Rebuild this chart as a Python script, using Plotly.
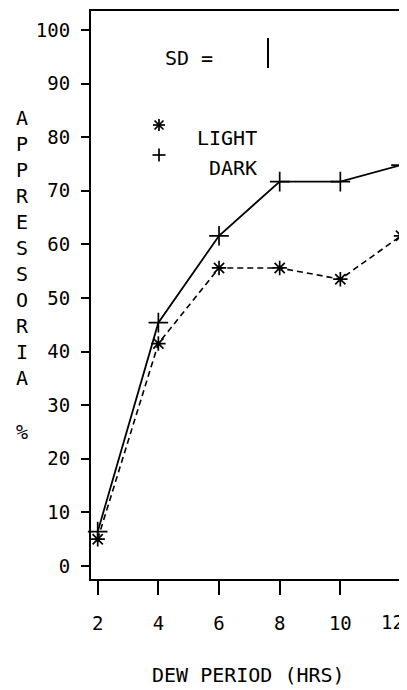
import plotly.graph_objects as go

# ---- data ----
dew_hours = [2, 4, 6, 8, 10, 12]
dark_pct = [6.4, 45.4, 61.6, 71.7, 71.7, 74.8]
light_pct = [5.0, 41.5, 55.6, 55.6, 53.5, 61.6]
x_ticks = [2, 4, 6, 8, 10, 12]
y_ticks = [0, 10, 20, 30, 40, 50, 60, 70, 80, 90, 100]
sd_value = 5.6
sd_base = 92.9

FONT = "DejaVu Sans Mono"
OFF = 8  # page body margin
W, H = 407 - OFF, 690 - OFF
# plot area in page pixels: x 91..407, y 11..579
L, T = 91 - OFF, 11 - OFF
R = 0
B = H - (579 - OFF)
PW, PH = W - L - R, H - T - B


def px(x):
    return (x - OFF - L) / PW


def py(y):
    return (H - B - (y - OFF)) / PH


fig = go.Figure()
fig.add_trace(go.Scatter(
    x=dew_hours, y=light_pct, mode="lines+markers", name="LIGHT",
    line=dict(color="black", width=1.6, dash="6px,4px"),
    marker=dict(symbol="asterisk-open", size=12, color="black",
                line=dict(color="black", width=1.7)),
    cliponaxis=False,
))
fig.add_trace(go.Scatter(
    x=dew_hours, y=dark_pct, mode="lines+markers", name="DARK",
    line=dict(color="black", width=1.8),
    marker=dict(symbol="cross-thin-open", size=14, color="black",
                line=dict(color="black", width=1.7)),
    cliponaxis=False,
))

shapes = []
# SD bar
shapes.append(dict(type="line", xref="paper", yref="y", x0=px(268), x1=px(268),
                   y0=sd_base, y1=sd_base + sd_value,
                   line=dict(color="black", width=2)))


def seg(x0, y0, x1, y1, w=1.7):
    shapes.append(dict(type="line", xref="paper", yref="paper",
                       x0=px(x0), y0=py(y0), x1=px(x1), y1=py(y1),
                       line=dict(color="black", width=w)))


# legend asterisk
cx, cy, r = 159, 125, 6
seg(cx, cy - r, cx, cy + r)
seg(cx - r, cy, cx + r, cy)
seg(cx - r * 0.75, cy - r * 0.75, cx + r * 0.75, cy + r * 0.75)
seg(cx - r * 0.75, cy + r * 0.75, cx + r * 0.75, cy - r * 0.75)
# legend plus
cx, cy, r = 159, 155, 6.5
seg(cx, cy - r, cx, cy + r)
seg(cx - r, cy, cx + r, cy)

annotations = [
    dict(text="SD =", x=px(163), y=py(58), xanchor="left", yanchor="middle"),
    dict(text="LIGHT", x=px(259), y=py(138), xanchor="right", yanchor="middle"),
    dict(text="DARK", x=px(259), y=py(168), xanchor="right", yanchor="middle"),
    dict(text="DEW PERIOD (HRS)", x=px(248), y=py(675), xanchor="center", yanchor="middle"),
    dict(text="<br>".join(list("APPRESSORIA")), x=px(22), y=py(248.5),
         xanchor="center", yanchor="middle"),
    dict(text="%", x=px(22), y=py(432), xanchor="center", yanchor="middle"),
]
for a in annotations:
    a.update(xref="paper", yref="paper", showarrow=False,
             font=dict(family=FONT, size=20, color="black"))

# last x tick label sits against the right edge: place it as a right-anchored label
last_tick = x_ticks[-1]
annotations.append(dict(
    text=str(last_tick), xref="x", x=last_tick, yref="paper", y=py(622),
    xanchor="right", yanchor="middle", xshift=5, showarrow=False,
    font=dict(family=FONT, size=19, color="black"),
))
tick_text = [str(v) for v in x_ticks[:-1]] + [""]

fig.update_layout(
    width=W, height=H,
    margin=dict(l=L, r=R, t=T, b=B, pad=0),
    paper_bgcolor="white", plot_bgcolor="white",
    showlegend=False,
    shapes=shapes, annotations=annotations,
    font=dict(family=FONT, size=18, color="black"),
)
fig.update_xaxes(
    range=[1.779, 12.198], tickvals=x_ticks, ticktext=tick_text,
    ticks="outside", ticklen=14, tickwidth=2, tickcolor="black",
    showline=True, linewidth=2, linecolor="black", mirror=True,
    showgrid=False, zeroline=False, ticklabelstandoff=12,
    tickfont=dict(family=FONT, size=19, color="black"),
)
fig.update_yaxes(
    range=[-2.43, 103.54], tickvals=y_ticks, ticktext=[str(v) for v in y_ticks],
    ticks="outside", ticklen=8, tickwidth=2, tickcolor="black",
    showline=True, linewidth=2, linecolor="black", mirror=False,
    showgrid=False, zeroline=False, ticklabelstandoff=7,
    tickfont=dict(family=FONT, size=19, color="black"),
)

fig.write_html("out.html")
